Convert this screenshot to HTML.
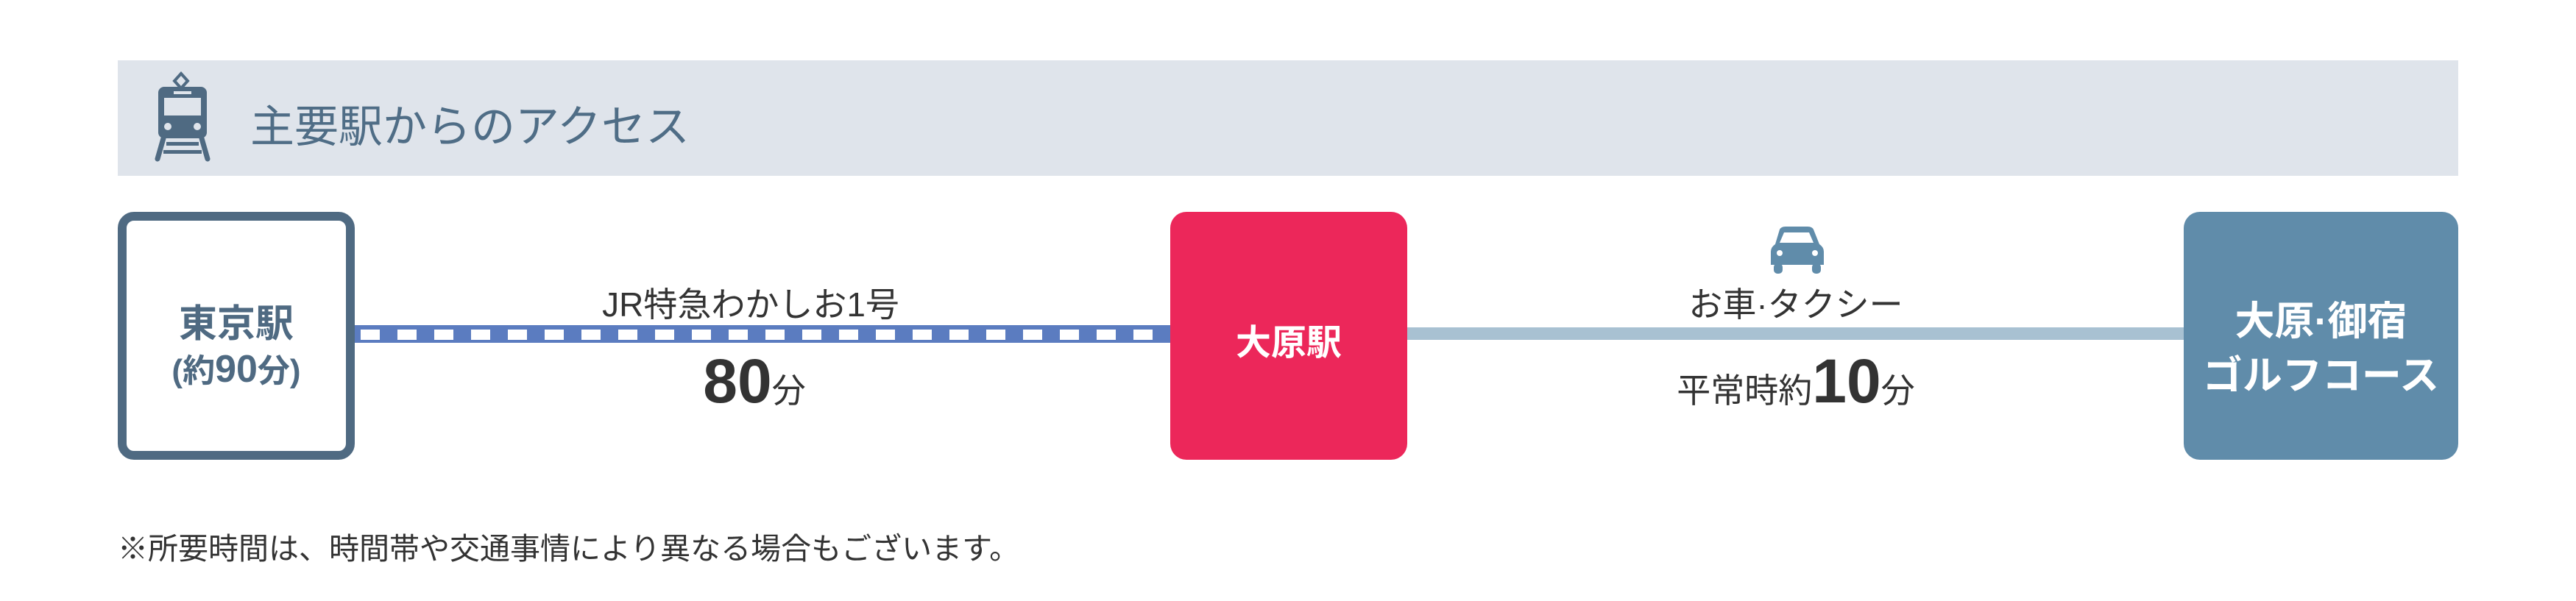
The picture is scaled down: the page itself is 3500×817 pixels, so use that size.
<!DOCTYPE html>
<html><head><meta charset="utf-8"><style>
body{margin:0;width:3500px;height:817px;background:#fff;position:relative;overflow:hidden;font-family:"Liberation Sans","Noto Sans CJK JP",sans-serif}
.a{position:absolute}
.c{position:absolute;text-align:center;white-space:nowrap}
</style></head><body>
<div class="a" style="left:160px;top:82px;width:3180px;height:157px;background:#dfe4eb"></div>
<svg class="a" style="left:200px;top:90px" width="100" height="140" viewBox="0 0 100 140">
<path d="M46 10 L55 20 L46 30 L37 20 Z" fill="none" stroke="#4f6a82" stroke-width="4"/>
<rect x="15" y="28" width="66" height="70" rx="8" fill="#4f6a82"/>
<rect x="36" y="34" width="24" height="4" fill="#dfe4eb"/>
<rect x="23" y="43" width="50" height="24" fill="#dfe4eb"/>
<circle cx="28" cy="82" r="5" fill="#dfe4eb"/><circle cx="68" cy="82" r="5" fill="#dfe4eb"/>
<path d="M22 98 L14 126 M74 98 L82 126" stroke="#4f6a82" stroke-width="7" stroke-linecap="round"/>
<rect x="26" y="103" width="44" height="5" fill="#4f6a82"/><rect x="22" y="114" width="52" height="5" fill="#4f6a82"/>
</svg>
<div class="a" style="left:340px;top:124px;font-size:60px;color:#4f6d86;white-space:nowrap">主要駅からのアクセス</div>

<div class="a" style="left:160px;top:288px;width:298px;height:313px;border:12px solid #4f6a82;border-radius:22px;background:#fff"></div>
<div class="c" style="left:160px;width:322px;top:398px;font-size:52px;color:#4f6a82;font-weight:bold">東京駅</div>
<div class="c" style="left:160px;width:322px;top:468px;font-size:44px;color:#4f6a82;font-weight:bold">(約<span style="font-size:52px">90</span>分)</div>

<div class="a" style="left:482px;top:442px;width:1108px;height:24px;background:#5b7cc0"></div>
<div class="a" style="left:490px;top:448px;width:1100px;height:14px;background:repeating-linear-gradient(90deg,#fff 0 26px,transparent 26px 50px)"></div>
<div class="c" style="left:770px;width:500px;top:378px;font-size:46px;color:#333">JR特急わかしお1号</div>
<div class="c" style="left:900px;width:250px;top:470px;font-size:46px;color:#333"><span style="font-size:84px;font-weight:bold">80</span>分</div>

<div class="a" style="left:1590px;top:288px;width:322px;height:337px;background:#ec275a;border-radius:22px"></div>
<div class="c" style="left:1590px;width:322px;top:426px;font-size:48px;color:#fff;font-weight:bold">大原駅</div>

<div class="a" style="left:1912px;top:445px;width:1055px;height:17px;background:#a8c1d2"></div>
<svg class="a" style="left:2404px;top:308px" width="76" height="66" viewBox="0 0 76 66">
<path d="M14 4 Q16 0 22 0 L52 0 Q58 0 60 4 L68 24 Q74 28 74 34 L74 52 L2 52 L2 34 Q2 28 8 24 Z" fill="#608caa"/>
<path d="M20 8 L54 8 L60 22 L14 22 Z" fill="#fff"/>
<circle cx="14" cy="36" r="4" fill="#fff"/><circle cx="62" cy="36" r="4" fill="#fff"/>
<rect x="6" y="50" width="12" height="14" rx="5" fill="#608caa"/><rect x="58" y="50" width="12" height="14" rx="5" fill="#608caa"/>
</svg>
<div class="c" style="left:2240px;width:400px;top:378px;font-size:46px;color:#333">お車·タクシー</div>
<div class="c" style="left:2240px;width:400px;top:470px;font-size:46px;color:#333">平常時約<span style="font-size:84px;font-weight:bold">10</span>分</div>

<div class="a" style="left:2967px;top:288px;width:373px;height:337px;background:#608caa;border-radius:22px"></div>
<div class="c" style="left:2967px;width:373px;top:392px;font-size:54px;color:#fff;font-weight:bold">大原·御宿</div>
<div class="c" style="left:2967px;width:373px;top:466px;font-size:54px;color:#fff;font-weight:bold">ゴルフコース</div>

<div class="a" style="left:160px;top:712px;font-size:41px;color:#333;white-space:nowrap">※所要時間は、時間帯や交通事情により異なる場合もございます。</div>
</body></html>
